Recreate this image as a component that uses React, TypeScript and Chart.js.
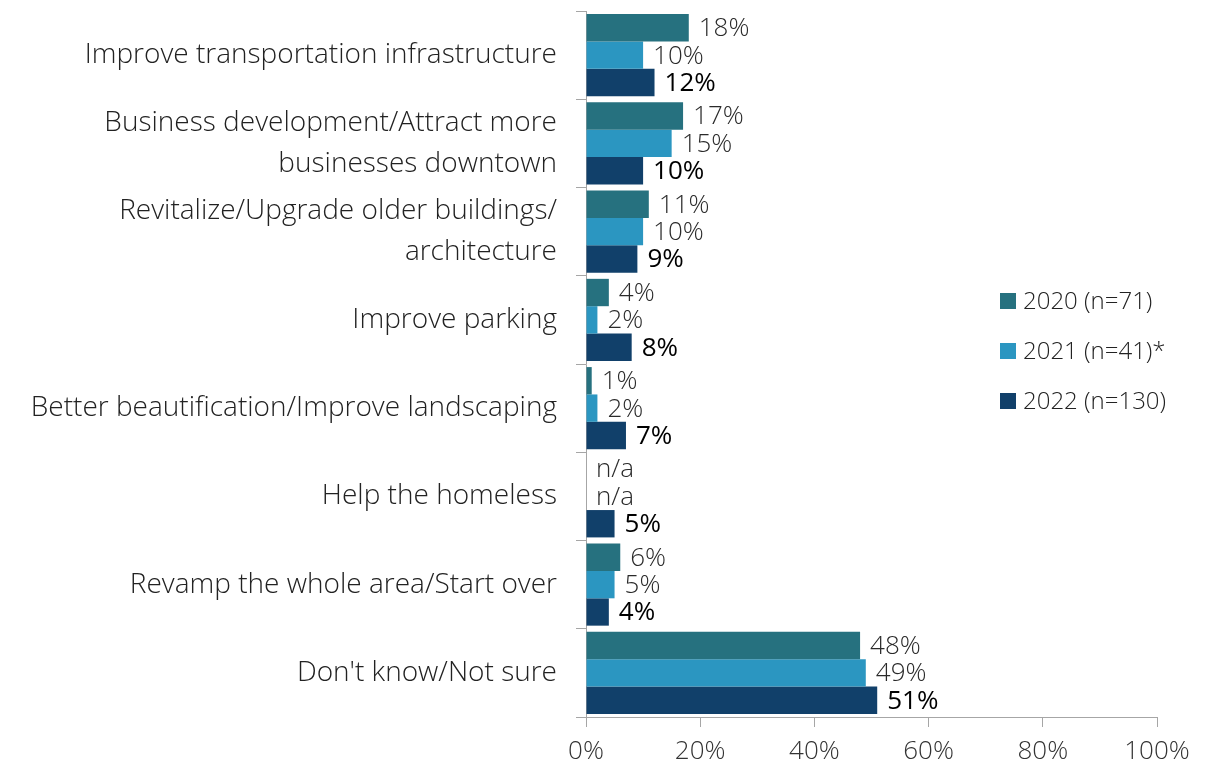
import React, { useEffect, useRef } from "react";
import { Chart, registerables } from "chart.js";

Chart.register(...registerables);

const categories: (string | string[])[] = [
  "Improve transportation infrastructure",
  ["Business development/Attract more", "businesses downtown"],
  ["Revitalize/Upgrade older buildings/", "architecture"],
  "Improve parking",
  "Better beautification/Improve landscaping",
  "Help the homeless",
  "Revamp the whole area/Start over",
  "Don't know/Not sure",
];

const seriesNames = ["2020 (n=71)", "2021 (n=41)*", "2022 (n=130)"];
const values2020: (number | null)[] = [18, 17, 11, 4, 1, null, 6, 48];
const values2021: (number | null)[] = [10, 15, 10, 2, 2, null, 5, 49];
const values2022: (number | null)[] = [12, 10, 9, 8, 7, 5, 4, 51];
const seriesColors = ["#26717F", "#2B96C1", "#11406A"];
const xTicks = [0, 20, 40, 60, 80, 100];

const FONT = "'Open Sans', 'DejaVu Sans', sans-serif";

const labelPlugin = {
  id: "barLabels",
  afterDatasetsDraw(chart: any) {
    const ctx = chart.ctx;
    const xScale = chart.scales.x;
    ctx.save();
    ctx.textBaseline = "middle";
    ctx.textAlign = "left";
    chart.data.datasets.forEach((ds: any, di: number) => {
      const meta = chart.getDatasetMeta(di);
      meta.data.forEach((el: any, i: number) => {
        const v = ds.data[i];
        const isBold = di === 2;
        ctx.font = `${isBold ? 400 : 300} 26px ${FONT}`;
        ctx.fillStyle = isBold ? "#000000" : "#2a2a2a";
        const x = v == null ? xScale.getPixelForValue(0) : el.x;
        const text = v == null ? "n/a" : `${v}%`;
        ctx.fillText(text, x + 10, el.y + 1);
      });
    });
    ctx.restore();
  },
};

const legendPlugin = {
  id: "customLegend",
  afterDraw(chart: any) {
    const ctx = chart.ctx;
    ctx.save();
    ctx.textBaseline = "middle";
    ctx.textAlign = "left";
    ctx.font = `300 24px ${FONT}`;
    const ys = [301, 351, 401];
    seriesNames.forEach((name, i) => {
      ctx.fillStyle = seriesColors[i];
      ctx.fillRect(1000, ys[i] - 8, 16, 16);
      ctx.fillStyle = "#222222";
      ctx.fillText(name, 1023, ys[i] + 1);
    });
    ctx.restore();
  },
};

export default function App() {
  const ref = useRef<HTMLCanvasElement | null>(null);
  useEffect(() => {
    if (!ref.current) return;
    const data = [values2020, values2021, values2022];
    const chart = new Chart(ref.current, {
      type: "bar",
      data: {
        labels: categories,
        datasets: seriesNames.map((n, i) => ({
          label: n,
          data: data[i],
          backgroundColor: seriesColors[i],
          borderWidth: 0,
          barPercentage: 1,
          categoryPercentage: 0.93,
        })),
      },
      options: {
        indexAxis: "y",
        animation: false,
        responsive: true,
        maintainAspectRatio: false,
        layout: { padding: { top: 11, right: 61, bottom: 0, left: 0 } },
        plugins: { legend: { display: false }, tooltip: { enabled: false } },
        scales: {
          x: {
            min: 0,
            max: 100,
            afterBuildTicks: (scale: any) => {
              scale.ticks = xTicks.map((v) => ({ value: v }));
            },
            afterFit: (scale: any) => {
              scale.height = 50;
            },
            grid: {
              display: true,
              drawOnChartArea: false,
              drawTicks: true,
              tickLength: 10,
              color: "#A6A6A6",
            },
            border: { display: true, color: "#A6A6A6", width: 1 },
            ticks: {
              callback: (v: any) => `${v}%`,
              color: "#333333",
              font: { family: FONT, size: 26, weight: 300 as any, lineHeight: 1.2 },
              padding: 9,
              maxRotation: 0,
            },
          },
          y: {
            afterFit: (scale: any) => {
              scale.width = 586;
              scale.paddingTop = 0;
              scale.paddingBottom = 0;
            },
            grid: {
              display: true,
              offset: true,
              drawOnChartArea: false,
              drawTicks: true,
              tickLength: 10,
              color: "#A6A6A6",
            },
            border: { display: true, color: "#A6A6A6", width: 1 },
            ticks: {
              color: "#222222",
              font: { family: FONT, size: 28, weight: 300 as any, lineHeight: 1.46 },
              padding: 19,
              autoSkip: false,
            },
          },
        },
      },
      plugins: [labelPlugin, legendPlugin],
    });
    return () => chart.destroy();
  }, []);
  return (
    <div style={{ position: "fixed", left: 0, top: 0, width: 1218, height: 767, background: "#ffffff" }}>
      <canvas ref={ref} />
    </div>
  );
}
